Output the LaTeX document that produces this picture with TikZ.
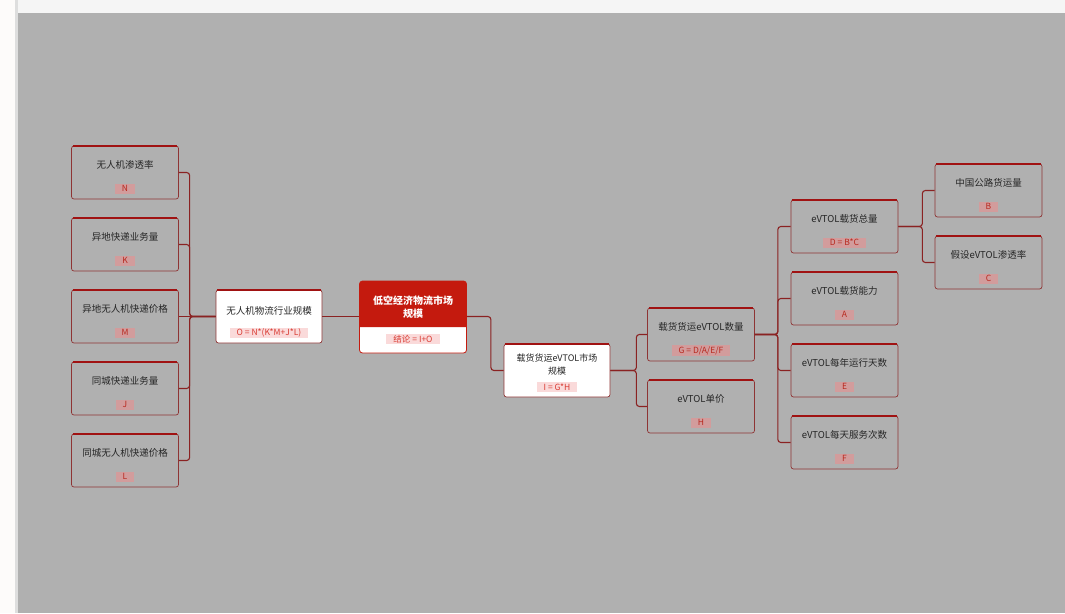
\documentclass[tikz,border=0pt]{standalone}
\usepackage{fontspec}
\setmainfont{Noto Sans CJK SC}
\newfontfamily\cjk{Noto Sans CJK SC}
\usetikzlibrary{positioning}
\definecolor{bggray}{HTML}{B0B0B0}
\definecolor{topstrip}{HTML}{F5F5F5}
\definecolor{leftstrip}{HTML}{FDFBFA}
\definecolor{stripline}{HTML}{DEDEDE}
\definecolor{conncol}{HTML}{8A2222}
\definecolor{boxline}{HTML}{8E3434}
\definecolor{boxtop}{HTML}{A01212}
\definecolor{titlecol}{HTML}{262626}
\definecolor{tagbg}{HTML}{D29C9C}
\definecolor{tagtext}{HTML}{B8281E}
\definecolor{wtagbg}{HTML}{FADADA}
\definecolor{wtagtext}{HTML}{D83A32}
\definecolor{rootred}{HTML}{C41A0E}
\tikzset{
  conn/.style={draw=conncol, line width=1.1pt, rounded corners=3pt},
  leafbox/.style={draw=boxline, line width=0.7pt, fill=bggray, rounded corners=2.5pt,
    minimum width=107pt, minimum height=53pt, inner sep=0pt},
  whitebox/.style={leafbox, fill=white},
  topedge/.style={draw=boxtop, line width=2.2pt},
  leaftitle/.style={font=\fontsize{9.5}{11}\selectfont, text=titlecol, inner sep=0pt, align=center},
  leaftag/.style={font=\fontsize{8.5}{9}\selectfont, text=tagtext, fill=tagbg, inner xsep=7pt, inner ysep=1pt, minimum height=10pt},
  wtag/.style={leaftag, fill=wtagbg, text=wtagtext},
}
\newcommand\leaf[6]{% style, name, x, y, title, tag
  \node[#1] (#2) at (#3,#4) {};
  \draw[topedge] ([xshift=1.5pt,yshift=-0.6pt]#2.north west) -- ([xshift=-1.5pt,yshift=-0.6pt]#2.north east);
  \node[leaftitle] (#2-t) at (#3,#4-8) {#5};
  \node[leaftag] (#2-f) at (#3,#4+16) {#6};
}
\begin{document}
\begin{tikzpicture}[x=1pt,y=-1pt]
\useasboundingbox (0,0) rectangle (1065,613);
\fill[topstrip] (0,0) rectangle (1065,613);
\fill[leftstrip] (0,0) rectangle (15,613);
\fill[stripline] (15,0) rectangle (18,613);
\fill[bggray] (18,13) rectangle (1065,613);

% left leaves
\leaf{leafbox}{N}{125}{172.5}{无人机渗透率}{N}
\leaf{leafbox}{K}{125}{244.5}{异地快递业务量}{K}
\leaf{leafbox}{M}{125}{316.5}{异地无人机快递价格}{M}
\leaf{leafbox}{J}{125}{388.5}{同城快递业务量}{J}
\leaf{leafbox}{L}{125}{460.5}{同城无人机快递价格}{L}

% O box
\node[whitebox, minimum width=106pt] (O) at (269,316.5) {};
\draw[topedge] ([xshift=1.5pt,yshift=-0.6pt]O.north west) -- ([xshift=-1.5pt,yshift=-0.6pt]O.north east);
\node[leaftitle] (O-t) at (269,311) {无人机物流行业规模};
\node[wtag] (O-f) at (269,333) {O = N*(K*M+J*L)};

% root
\node[draw=rootred, line width=0.8pt, fill=white, rounded corners=3pt, minimum width=107pt, minimum height=72pt, inner sep=0pt] (root) at (413,317) {};
\fill[rootred, rounded corners=3pt] ([xshift=0.4pt,yshift=-0.4pt]root.north west) -- ([xshift=-0.4pt,yshift=-0.4pt]root.north east) [sharp corners] -- ([xshift=-0.4pt]root.east |- 0,327) -- ([xshift=0.4pt]root.west |- 0,327) [rounded corners=3pt] -- cycle;
\node[font=\bfseries\fontsize{10}{13}\selectfont, text=white, align=center, inner sep=0pt] (root-t) at (413,307) {低空经济物流市场\\规模};
\node[wtag] (root-f) at (413,339) {结论 = I+O};

% I box
\node[whitebox, minimum width=106pt] (I) at (557,370.5) {};
\draw[topedge] ([xshift=1.5pt,yshift=-0.6pt]I.north west) -- ([xshift=-1.5pt,yshift=-0.6pt]I.north east);
\node[leaftitle, font=\fontsize{9}{13}\selectfont] (I-t) at (557,365) {载货货运eVTOL市场\\规模};
\node[wtag] (I-f) at (557,387) {I = G*H};

% right side
\leaf{leafbox}{G}{701}{334.5}{载货货运eVTOL数量}{G = D/A/E/F}
\leaf{leafbox}{H}{701}{406.5}{eVTOL单价}{H}
\leaf{leafbox}{D}{844.5}{226.5}{eVTOL载货总量}{D = B*C}
\leaf{leafbox}{A}{844.5}{298.5}{eVTOL载货能力}{A}
\leaf{leafbox}{E}{844.5}{370.5}{eVTOL每年运行天数}{E}
\leaf{leafbox}{F}{844.5}{442.5}{eVTOL每天服务次数}{F}
\leaf{leafbox}{B}{988.5}{190.5}{中国公路货运量}{B}
\leaf{leafbox}{C}{988.5}{262.5}{假设eVTOL渗透率}{C}

% connectors
\foreach \n in {N,K,J,L} \draw[conn] (O.west) -- ++(-26,0) |- (\n.east);
\draw[conn] (O.west) -- (M.east);
\draw[conn] (root.west |- O.east) -- (O.east);
\draw[conn] (root.east |- O.east) -- ++(24,0) |- (I.west);
\foreach \n in {G,H} \draw[conn] (I.west -| I.east) -- ++(26,0) |- (\n.west);
\foreach \n in {D,A,E,F} \draw[conn] (G.east) -- ++(23,0) |- (\n.west);
\foreach \n in {B,C} \draw[conn] (D.east) -- ++(24,0) |- (\n.west);
\end{tikzpicture}
\end{document}
